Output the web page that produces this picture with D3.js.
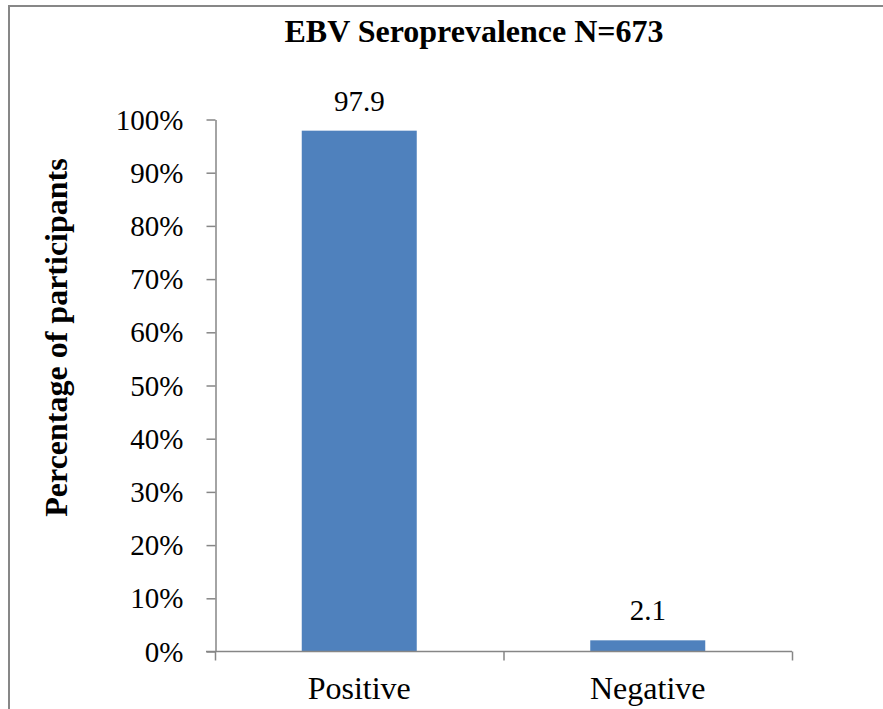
<!DOCTYPE html>
<html><head><meta charset="utf-8">
<script src="https://cdn.jsdelivr.net/npm/d3@7"></script>
<style>html,body{margin:0;padding:0;background:#fff;}svg{display:block;}</style>
</head><body>
<svg id="c" width="883" height="709"></svg>
<script>
const categories = ["Positive", "Negative"];
const values = [97.9, 2.1];
const valueLabels = ["97.9", "2.1"];
const yTicks = [0, 10, 20, 30, 40, 50, 60, 70, 80, 90, 100];
const title = "EBV Seroprevalence N=673";
const yTitle = "Percentage of participants";

const svg = d3.select("#c");
const font = "'Liberation Serif','Times New Roman',serif";
// frame (top and left edges visible)
svg.append("line").attr("x1", 9).attr("x2", 883).attr("y1", 6).attr("y2", 6).attr("stroke", "#878787").attr("stroke-width", 2);
svg.append("line").attr("x1", 9).attr("x2", 9).attr("y1", 5).attr("y2", 709).attr("stroke", "#878787").attr("stroke-width", 2);

const x = d3.scaleBand().domain(categories).range([215, 792]).paddingInner(0).paddingOuter(0);
const y = d3.scaleLinear().domain([0, 100]).range([651.5, 119.5]);
const barW = 115;

const yAxis = svg.append("g").attr("transform", "translate(215.5,0)")
  .call(d3.axisLeft(y).tickValues(yTicks).tickFormat(d => d + "%").tickSizeInner(9).tickSizeOuter(0).tickPadding(23));
yAxis.select(".domain").attr("stroke", "#868686").attr("stroke-width", 1.5);
yAxis.selectAll(".tick line").attr("stroke", "#868686").attr("stroke-width", 1.5);
yAxis.selectAll(".tick text").attr("font-family", font).attr("font-size", 29).attr("fill", "#000").attr("dy", "0.33em");

// bars
svg.selectAll("rect.bar").data(values).enter().append("rect")
  .attr("class", "bar")
  .attr("x", (d, i) => x(categories[i]) + x.bandwidth() / 2 - barW / 2)
  .attr("y", d => y(d))
  .attr("width", barW)
  .attr("height", d => y(0) - y(d))
  .attr("fill", "#4f81bd");

const xAxis = svg.append("g").attr("transform", "translate(0," + y(0) + ")")
  .call(d3.axisBottom(x).tickSize(0).tickPadding(0));
xAxis.select(".domain").remove();
xAxis.selectAll(".tick text").attr("font-family", font).attr("font-size", 32).attr("fill", "#000")
  .attr("dy", null).attr("y", 47.5);
svg.append("line").attr("x1", 206).attr("x2", 792).attr("y1", y(0)).attr("y2", y(0)).attr("stroke", "#868686").attr("stroke-width", 1.5);
const bounds = [x.range()[0], x(categories[1]), x.range()[1]];
svg.selectAll("line.xt").data(bounds).enter().append("line")
  .attr("x1", d => d + 0.5).attr("x2", d => d + 0.5)
  .attr("y1", y(0)).attr("y2", y(0) + 9)
  .attr("stroke", "#868686").attr("stroke-width", 1.5);

// value labels
svg.selectAll("text.vl").data(values).enter().append("text")
  .attr("x", (d, i) => x(categories[i]) + x.bandwidth() / 2)
  .attr("y", d => y(d) - 20)
  .attr("text-anchor", "middle")
  .attr("font-family", font).attr("font-size", 29).attr("fill", "#000")
  .text((d, i) => valueLabels[i]);

svg.append("text").attr("x", 474).attr("y", 42).attr("text-anchor", "middle")
  .attr("font-family", font).attr("font-weight", "bold").attr("font-size", 32).attr("fill", "#000")
  .text(title);

svg.append("text").attr("transform", "translate(67,337.5) rotate(-90)").attr("text-anchor", "middle")
  .attr("font-family", font).attr("font-weight", "bold").attr("font-size", 32).attr("fill", "#000")
  .text(yTitle);
</script>
</body></html>
